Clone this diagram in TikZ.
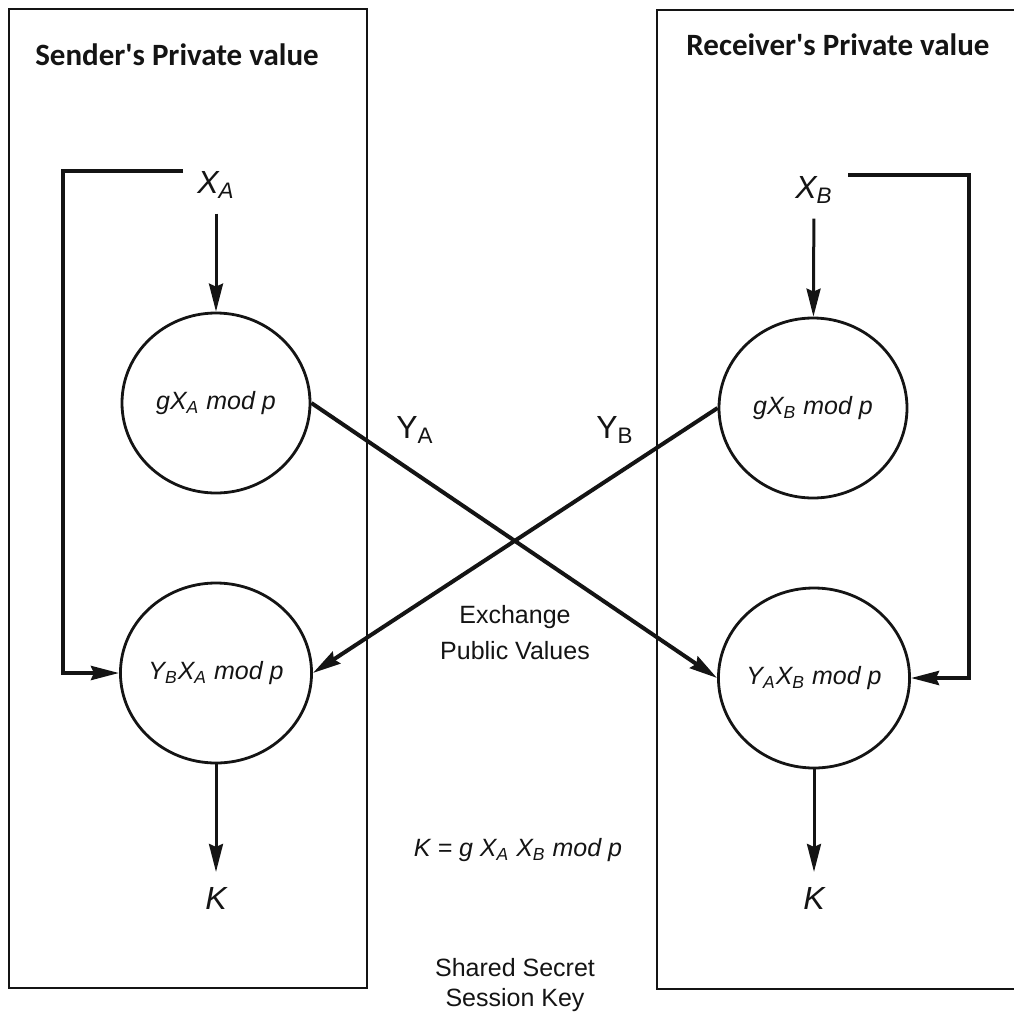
\documentclass[tikz,border=0pt]{standalone}
\usepackage{fontspec}
\setmainfont{Liberation Sans}
\newfontfamily\titlefont{Carlito}
\usepackage{xcolor}
\definecolor{inkblack}{HTML}{141414}
\usepackage{tikz}
\usetikzlibrary{positioning,arrows.meta,shapes.geometric}
\newcommand\sbs[1]{\textsubscript{#1}}

\begin{document}
\begin{tikzpicture}[x=0.5pt, y=-0.5pt, inkblack,
    partybox/.style={draw=inkblack, line width=1.4pt},
    title/.style={font=\titlefont\bfseries\fontsize{15.5}{18}\selectfont},
    calcnode/.style={ellipse, draw=inkblack, line width=1.4pt, inner sep=0pt,
      minimum width=94pt, minimum height=90pt,
      font=\fontsize{12.5}{14}\selectfont\itshape},
    varlabel/.style={font=\fontsize{16}{18}\selectfont\itshape},
    publabel/.style={font=\fontsize{16}{18}\selectfont},
    note/.style={align=center, font=\fontsize{12.5}{15}\selectfont},
    arr/.style={-{Stealth[length=14pt,width=7pt,inset=1.5pt]}, line width=1.5pt},
    feed/.style={arr, line width=2pt},
    cross/.style={arr, line width=2pt}]
    \useasboundingbox (0,0) rectangle (1013,1028);
    % the two parties
    \draw[partybox] (9,9) rectangle (367,988);
    \draw[partybox] (1015,10) -- (657,10) -- (657,989) -- (1015,989);
    \node[title] (stitle) at (177,55) {Sender's Private value};
    \node[title] (rtitle) at (838,45) {Receiver's Private value};
    % private values
    \node[varlabel] (xa) at (216,185) {X\sbs{A}};
    \node[varlabel] (xb) at (814,190) {X\sbs{B}};
    \coordinate (xaend) at (183,171);
    \coordinate (xbend) at (848,175);
    % computations
    \node[calcnode] (ga) at (216,403) {gX\sbs{A} mod p};
    \node[calcnode] (gb) at (813,408) {gX\sbs{B} mod p};
    \node[calcnode] (ka) at (216,673) {Y\sbs{B}X\sbs{A} mod p};
    \node[calcnode] (kb) at (814,678) {Y\sbs{A}X\sbs{B} mod p};
    \node[varlabel] (keya) at (216,898) {K};
    \node[varlabel] (keyb) at (814,898) {K};
    % public values
    \node[publabel] (ya) at (415,430) {Y\sbs{A}};
    \node[publabel] (yb) at (615,430) {Y\sbs{B}};
    \node[note] (exch) at (515,633) {Exchange\\[3pt]Public Values};
    \node[note, font=\fontsize{12.5}{15}\selectfont\itshape] (keyeq) at (518,850)
      {K = g X\sbs{A} X\sbs{B} mod p};
    \node[note] (shared) at (515,985) {Shared Secret\\Session Key};
    % arrows
    \draw[arr, shorten <=4pt] (xa) -- (ga);
    \draw[arr, shorten <=4pt] (xb) -- (gb);
    \draw[feed] (xaend) -| ([xshift=-28pt]ka.west) -- (ka.west);
    \draw[feed] (xbend) -| ([xshift=29pt]kb.east) -- (kb.east);
    \draw[cross] (ga.east) -- (kb.west);
    \draw[cross] (gb.west) -- (ka.east);
    \foreach \s in {a,b}
      \draw[arr, shorten >=4pt] (k\s) -- (key\s);
\end{tikzpicture}
\end{document}
